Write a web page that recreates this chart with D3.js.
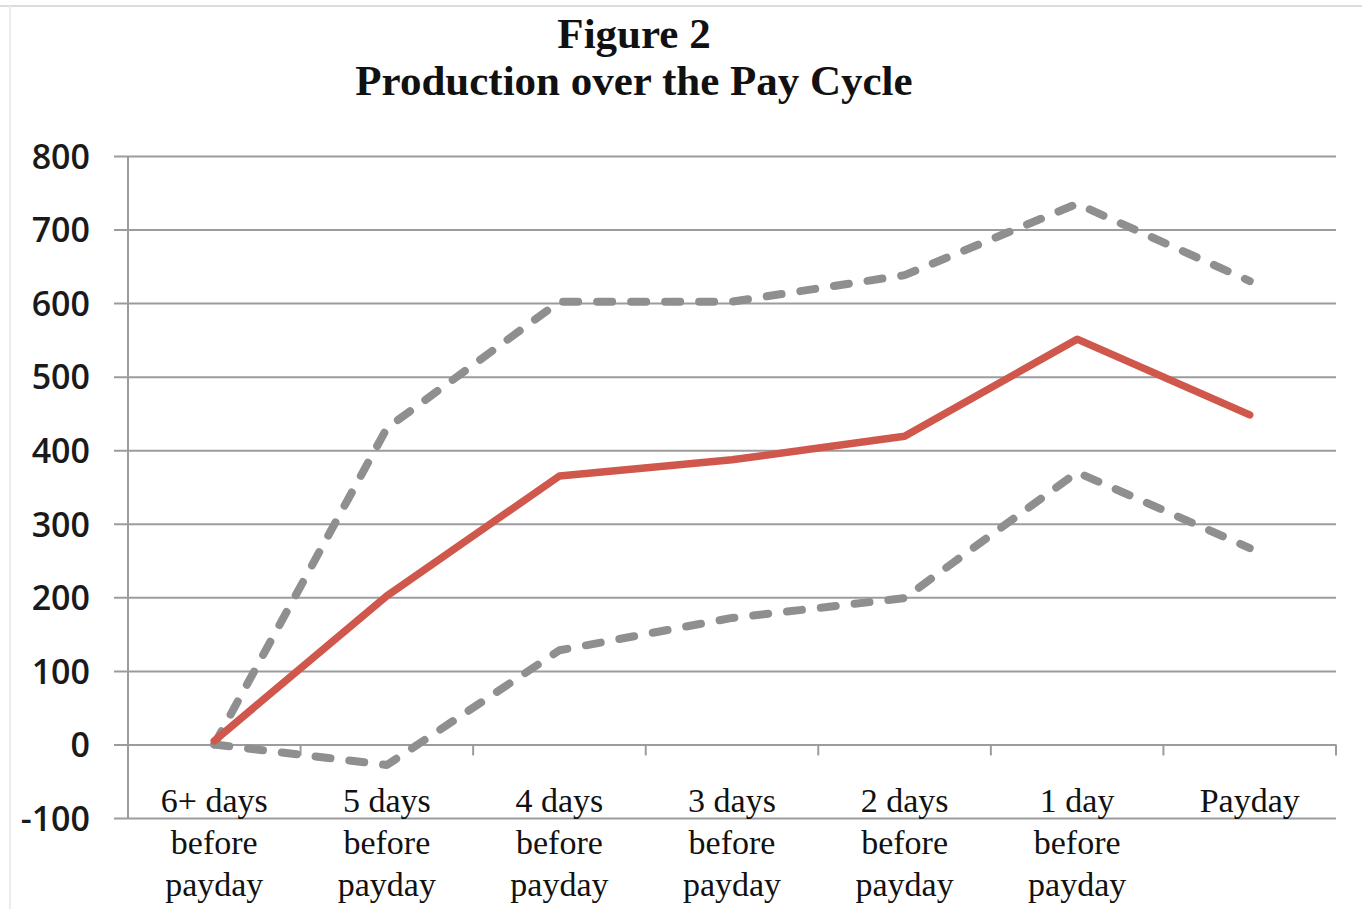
<!DOCTYPE html>
<html>
<head>
<meta charset="utf-8">
<script src="https://cdnjs.cloudflare.com/ajax/libs/d3/7.8.5/d3.min.js"></script>
<style>
  body { margin: 0; background: #fff; }
  .tickLabel { font-family: "Open Sans", sans-serif; font-weight: 600; font-size: 34px; fill: #1a1a1a; }
  .catLabel { font-family: "Liberation Serif", "Times New Roman", serif; font-size: 34px; fill: #111; }
  .title { font-family: "Liberation Serif", "Times New Roman", serif; font-weight: bold; font-size: 43px; fill: #111; }
</style>
</head>
<body>
<div id="chart"></div>
<script>

// Chart data
var categories = [
  ["6+ days", "before", "payday"],
  ["5 days", "before", "payday"],
  ["4 days", "before", "payday"],
  ["3 days", "before", "payday"],
  ["2 days", "before", "payday"],
  ["1 day", "before", "payday"],
  ["Payday"]
];
var meanValues = [5, 202, 365, 387, 419, 551, 448];
var upperValues = [0, 430, 602, 602, 638, 735, 630];
var lowerValues = [0, -28, 128, 172, 199, 370, 267];
var yTicks = [-100, 0, 100, 200, 300, 400, 500, 600, 700, 800];
var titleLines = ["Figure 2", "Production over the Pay Cycle"];

var svgWidth = 1362;
var svgHeight = 909;

var margin = {
  top: 156,
  right: 26,
  bottom: 91,
  left: 128
};

var width = svgWidth - margin.left - margin.right;
var height = svgHeight - margin.top - margin.bottom;

var svg = d3.select("#chart")
  .append("svg")
  .attr("width", svgWidth)
  .attr("height", svgHeight);

// light frame round the picture
svg.append("line")
  .attr("x1", 0).attr("x2", svgWidth)
  .attr("y1", 6).attr("y2", 6)
  .attr("stroke", "#dcdcdc")
  .attr("stroke-width", 2);

svg.append("line")
  .attr("x1", 10).attr("x2", 10)
  .attr("y1", 6).attr("y2", svgHeight)
  .attr("stroke", "#ececec")
  .attr("stroke-width", 2);

var chartGroup = svg.append("g")
  .attr("transform", `translate(${margin.left}, ${margin.top})`);

// Scales
var xBand = d3.scaleBand()
  .domain(d3.range(categories.length))
  .range([0, width])
  .padding(0);

var xCenter = i => xBand(i) + xBand.bandwidth() / 2;

var yLinearScale = d3.scaleLinear()
  .domain([-100, 800])
  .range([height, 0]);

// Gridlines + left ticks
var leftAxis = d3.axisLeft(yLinearScale)
  .tickValues(yTicks)
  .tickSize(-width)
  .tickFormat("");

var gridGroup = chartGroup.append("g")
  .call(leftAxis);

gridGroup.select(".domain").remove();
gridGroup.selectAll(".tick line")
  .attr("x1", -14)
  .attr("x2", width)
  .attr("stroke", "#9c9c9c")
  .attr("stroke-width", 2);

gridGroup.selectAll(".tick")
  .append("text")
  .attr("class", "tickLabel")
  .attr("x", -38)
  .attr("dy", "0.36em")
  .attr("text-anchor", "end")
  .text(d => d);

// y axis line
chartGroup.append("line")
  .attr("x1", 0).attr("x2", 0)
  .attr("y1", 0).attr("y2", height)
  .attr("stroke", "#9c9c9c")
  .attr("stroke-width", 2);

// category ticks on the zero line
var boundaries = d3.range(categories.length + 1).map(i => i * xBand.bandwidth());

chartGroup.selectAll(".catTick")
  .data(boundaries.slice(1))
  .enter()
  .append("line")
  .attr("class", "catTick")
  .attr("x1", d => d).attr("x2", d => d)
  .attr("y1", yLinearScale(0))
  .attr("y2", yLinearScale(0) + 11)
  .attr("stroke", "#9c9c9c")
  .attr("stroke-width", 2);

// Category labels
var catText = chartGroup.selectAll(".catLabel")
  .data(categories)
  .enter()
  .append("text")
  .attr("class", "catLabel")
  .attr("text-anchor", "middle")
  .attr("y", yLinearScale(0) + 68);

catText.selectAll("tspan")
  .data((d, i) => d.map(t => ({ t: t, i: i })))
  .enter()
  .append("tspan")
  .attr("x", d => xCenter(d.i))
  .attr("dy", (d, j) => j === 0 ? 0 : 42)
  .text(d => d.t);

// Lines
var lineGen = d3.line()
  .x((d, i) => xCenter(i))
  .y(d => yLinearScale(d));

chartGroup.append("path")
  .datum(upperValues)
  .attr("d", lineGen)
  .attr("fill", "none")
  .attr("stroke", "#8f8f8f")
  .attr("stroke-width", 8)
  .attr("stroke-linecap", "round")
  .attr("stroke-linejoin", "round")
  .attr("stroke-dasharray", "15,19");

chartGroup.append("path")
  .datum(lowerValues)
  .attr("d", lineGen)
  .attr("fill", "none")
  .attr("stroke", "#8f8f8f")
  .attr("stroke-width", 8)
  .attr("stroke-linecap", "round")
  .attr("stroke-linejoin", "round")
  .attr("stroke-dasharray", "15,19");

chartGroup.append("path")
  .datum(meanValues)
  .attr("d", lineGen)
  .attr("fill", "none")
  .attr("stroke", "#d0574b")
  .attr("stroke-width", 7.5)
  .attr("stroke-linecap", "round")
  .attr("stroke-linejoin", "round");

// Title
svg.selectAll(".title")
  .data(titleLines)
  .enter()
  .append("text")
  .attr("class", "title")
  .attr("x", 634)
  .attr("y", (d, i) => 48 + i * 47)
  .attr("text-anchor", "middle")
  .text(d => d);

</script>
</body>
</html>
